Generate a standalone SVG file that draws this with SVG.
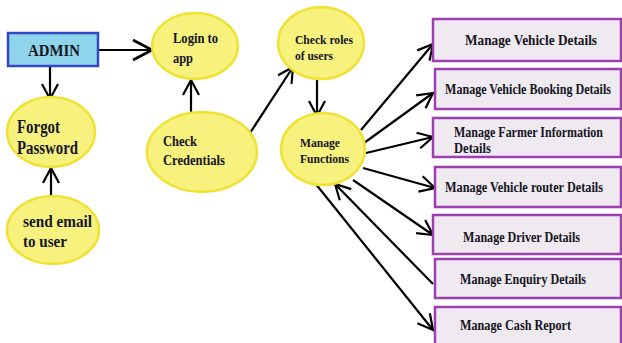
<svg xmlns="http://www.w3.org/2000/svg" width="622" height="343" viewBox="0 0 622 343">
<style>
.ell{fill:#f7f17e;stroke:#efe233;stroke-width:2.5}
.box{fill:#efe9f0;stroke:#9c3fb0;stroke-width:2.5}
.t{font-family:"Liberation Serif","Times New Roman",serif;font-weight:bold;fill:#15151f}
.c{fill:none;stroke:#000;stroke-width:2.2}
</style>
<defs>
<marker id="ah" viewBox="-17 -10 19 20" markerWidth="19" markerHeight="20" refX="0" refY="0" orient="auto" markerUnits="userSpaceOnUse">
<path d="M -15 -8 L 0 0 L -15 8" fill="none" stroke="#000" stroke-width="2.2"/>
</marker>
<marker id="ahL" viewBox="-21 -12 23 24" markerWidth="23" markerHeight="24" refX="0" refY="0" orient="auto" markerUnits="userSpaceOnUse">
<path d="M -19 -10 L 0 0 L -19 10" fill="none" stroke="#000" stroke-width="2.6"/>
</marker>
</defs>
<g id="connectors">
<line class="c" x1="98" y1="50" x2="152" y2="50" marker-end="url(#ahL)" stroke-width="2.6"/>
<line class="c" x1="50" y1="66" x2="50" y2="99" marker-end="url(#ah)"/>
<line class="c" x1="51" y1="196" x2="51" y2="168" marker-end="url(#ah)"/>
<line class="c" x1="191" y1="113" x2="191" y2="80" marker-end="url(#ah)"/>
<line class="c" x1="250" y1="133" x2="293" y2="67" marker-end="url(#ah)"/>
<line class="c" x1="317" y1="80" x2="317" y2="116" marker-end="url(#ah)"/>
<line class="c" x1="361" y1="130" x2="433" y2="44" marker-end="url(#ah)"/>
<line class="c" x1="364" y1="143" x2="433" y2="93" marker-end="url(#ah)"/>
<line class="c" x1="366" y1="153" x2="433" y2="137" marker-end="url(#ah)"/>
<line class="c" x1="363" y1="168" x2="435" y2="188" marker-end="url(#ah)"/>
<line class="c" x1="353" y1="180" x2="433" y2="235" marker-end="url(#ah)"/>
<line class="c" x1="433" y1="284" x2="335" y2="184" marker-end="url(#ah)"/>
<line class="c" x1="315" y1="183" x2="433" y2="330" marker-end="url(#ah)"/>
</g>
<g id="admin">
<rect x="8" y="33" width="90" height="33" fill="#8ed4ea" stroke="#3447c4" stroke-width="2.5"/>
<text class="t" x="28" y="56" font-size="16" textLength="52" lengthAdjust="spacingAndGlyphs">ADMIN</text>
</g>
<g id="login">
<ellipse class="ell" cx="195" cy="46" rx="43" ry="33"/>
<text class="t" x="173" y="43" font-size="15.5" textLength="45" lengthAdjust="spacingAndGlyphs">Login to</text>
<text class="t" x="173" y="63" font-size="15.5" textLength="20" lengthAdjust="spacingAndGlyphs">app</text>
</g>
<g id="forgot">
<ellipse class="ell" cx="51" cy="132" rx="44" ry="35"/>
<text class="t" x="17" y="133" font-size="18" textLength="43" lengthAdjust="spacingAndGlyphs">Forgot</text>
<text class="t" x="17" y="154" font-size="18" textLength="61" lengthAdjust="spacingAndGlyphs">Password</text>
</g>
<g id="sendemail">
<ellipse class="ell" cx="53" cy="230" rx="46" ry="34"/>
<text class="t" x="23" y="227" font-size="16.5" textLength="69" lengthAdjust="spacingAndGlyphs">send email</text>
<text class="t" x="23" y="247" font-size="16.5" textLength="44" lengthAdjust="spacingAndGlyphs">to user</text>
</g>
<g id="checkcred">
<ellipse class="ell" cx="202" cy="152" rx="55" ry="40"/>
<text class="t" x="163" y="146" font-size="15.5" textLength="34" lengthAdjust="spacingAndGlyphs">Check</text>
<text class="t" x="163" y="165" font-size="15.5" textLength="62" lengthAdjust="spacingAndGlyphs">Credentials</text>
</g>
<g id="checkroles">
<ellipse class="ell" cx="321" cy="43" rx="43" ry="36"/>
<text class="t" x="295" y="44" font-size="13.5" textLength="58" lengthAdjust="spacingAndGlyphs">Check roles</text>
<text class="t" x="295" y="60" font-size="13.5" textLength="38" lengthAdjust="spacingAndGlyphs">of users</text>
</g>
<g id="managefunctions">
<ellipse class="ell" cx="323" cy="149" rx="42" ry="36"/>
<text class="t" x="300" y="147" font-size="13.5" textLength="40" lengthAdjust="spacingAndGlyphs">Manage</text>
<text class="t" x="300" y="163" font-size="13.5" textLength="49" lengthAdjust="spacingAndGlyphs">Functions</text>
</g>
<g id="b1">
<rect class="box" x="433" y="19" width="188" height="42"/>
<text class="t" x="465" y="45" font-size="14.5" textLength="132" lengthAdjust="spacingAndGlyphs">Manage Vehicle Details</text>
</g>
<g id="b2">
<rect class="box" x="435" y="69" width="186" height="40"/>
<text class="t" x="445" y="94" font-size="14.5" textLength="166" lengthAdjust="spacingAndGlyphs">Manage Vehicle Booking Details</text>
</g>
<g id="b3">
<rect class="box" x="433" y="118" width="188" height="39"/>
<text class="t" x="454" y="137" font-size="14.5" textLength="149" lengthAdjust="spacingAndGlyphs">Manage Farmer Information</text>
<text class="t" x="454" y="153" font-size="14.5" textLength="37" lengthAdjust="spacingAndGlyphs">Details</text>
</g>
<g id="b4">
<rect class="box" x="435" y="167" width="186" height="40"/>
<text class="t" x="445" y="192" font-size="14.5" textLength="158" lengthAdjust="spacingAndGlyphs">Manage Vehicle router Details</text>
</g>
<g id="b5">
<rect class="box" x="433" y="215" width="188" height="39"/>
<text class="t" x="463" y="242" font-size="14.5" textLength="117" lengthAdjust="spacingAndGlyphs">Manage Driver Details</text>
</g>
<g id="b6">
<rect class="box" x="435" y="259" width="186" height="39"/>
<text class="t" x="460" y="284" font-size="14.5" textLength="126" lengthAdjust="spacingAndGlyphs">Manage Enquiry Details</text>
</g>
<g id="b7">
<rect class="box" x="435" y="307" width="186" height="40"/>
<text class="t" x="460" y="330" font-size="14.5" textLength="111" lengthAdjust="spacingAndGlyphs">Manage Cash Report</text>
</g>
</svg>
